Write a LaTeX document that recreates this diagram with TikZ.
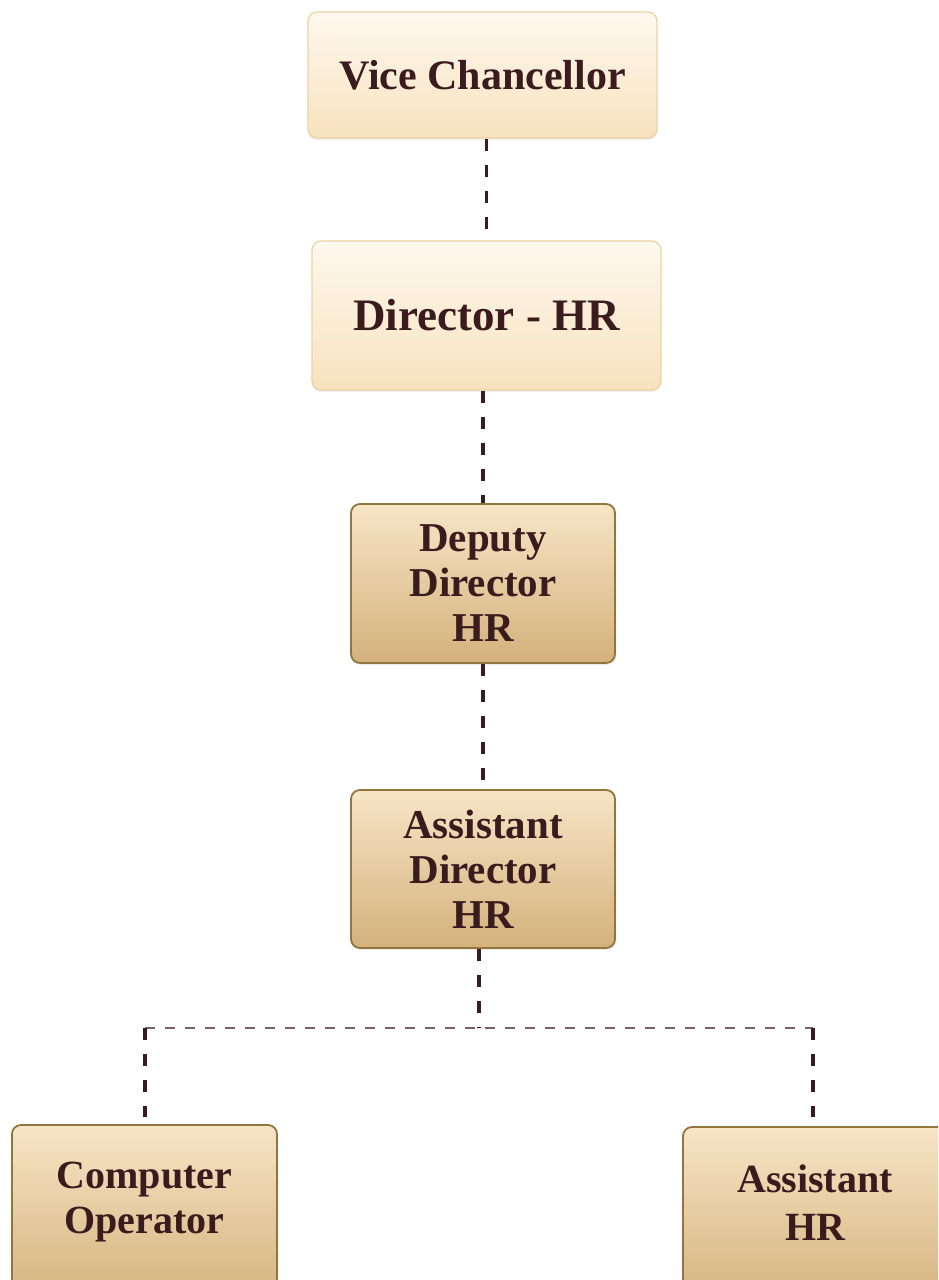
\documentclass[tikz,border=0pt]{standalone}
\usepackage{fontspec}
\setmainfont{Liberation Serif}
\usetikzlibrary{shadows}
\definecolor{txt}{HTML}{3A1B1E}
\definecolor{lightedge}{HTML}{EED3A2}
\definecolor{lighttop}{HTML}{FEF8EE}
\definecolor{lightbot}{HTML}{F8E2BE}
\definecolor{darkedge}{HTML}{937540}
\definecolor{darktop}{HTML}{F7E5C6}
\definecolor{darkbot}{HTML}{D4B17B}
\definecolor{hline}{HTML}{7A6262}
\tikzset{
  lightbox/.style={rectangle, rounded corners=9pt, draw=lightedge, line width=1.3pt,
    top color=lighttop, bottom color=lightbot, text=txt, align=center, inner sep=0pt,
    drop shadow={opacity=0.12, shadow xshift=0pt, shadow yshift=-2pt}},
  darkbox/.style={rectangle, rounded corners=9pt, draw=darkedge, line width=1.8pt,
    top color=darktop, bottom color=darkbot, text=txt, align=center, inner sep=0pt,
    drop shadow={opacity=0.15, shadow xshift=1pt, shadow yshift=-2pt}},
  vdash/.style={draw=txt, line width=3.8pt, dash pattern=on 12pt off 14pt},
  hdash/.style={draw=hline, line width=2.2pt, dash pattern=on 10pt off 10pt},
}
\begin{document}
\begin{tikzpicture}[x=1pt,y=-1pt]
\useasboundingbox (0,0) rectangle (938,1280);
\fill[white] (0,0) rectangle (938,1280);
\begin{scope}
\clip (0,0) rectangle (938,1280);
\node[lightbox, minimum width=349pt, minimum height=126pt,
  font=\bfseries\fontsize{42}{46}\selectfont] (vc) at (482.5,75) {Vice Chancellor};
\node[lightbox, minimum width=349pt, minimum height=149pt,
  font=\bfseries\fontsize{45}{50}\selectfont] (dhr) at (486.5,315.5) {Director - HR};
\node[darkbox, minimum width=264pt, minimum height=159pt,
  font=\bfseries\fontsize{41}{45}\selectfont] (ddhr) at (483,583.5) {Deputy\\Director\\HR};
\node[darkbox, minimum width=264pt, minimum height=158pt,
  font=\bfseries\fontsize{41}{45}\selectfont] (adhr) at (483,869) {Assistant\\Director\\HR};
\node[darkbox, minimum width=265pt, minimum height=180pt, text height=80pt, text depth=44pt,
  font=\bfseries\fontsize{40}{45}\selectfont] (co) at (144.5,1215) {Computer\\Operator};
\node[darkbox, minimum width=264pt, minimum height=180pt, text height=90pt, text depth=44pt,
  font=\bfseries\fontsize{40}{48}\selectfont] (ahr) at (815,1217) {Assistant\\HR};

\coordinate (j) at (479,1028);
\coordinate (jl) at (145,1028);
\coordinate (jr) at (813,1028);

\draw[vdash] (dhr.north |- vc.south) -- (dhr.north);
\draw[vdash] (ddhr.north |- dhr.south) -- (ddhr.north);
\draw[vdash] (ddhr.south) -- (adhr.north);
\draw[hdash] (jl) -- (jr);
\draw[vdash] (adhr.south -| j) -- (j);
\draw[vdash, shorten >=7pt] (jl) -- (co.north -| jl);
\draw[vdash, shorten >=9pt] (jr) -- (ahr.north -| jr);
\end{scope}
\end{tikzpicture}
\end{document}
